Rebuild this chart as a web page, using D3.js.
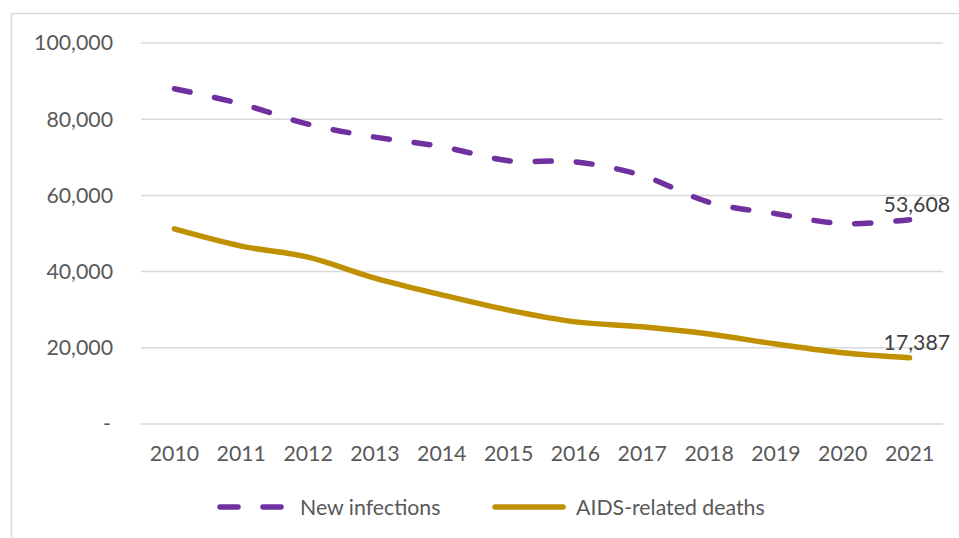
<!DOCTYPE html>
<html>
<head>
<meta charset="utf-8">
<script src="https://cdn.jsdelivr.net/npm/d3@7/dist/d3.min.js"></script>
<style>
  html, body { margin: 0; padding: 0; background: #fff; }
  svg { display: block; font-family: Lato, "Open Sans", sans-serif; }
</style>
</head>
<body>
<svg id="chart" width="959" height="538"></svg>
<script>
const years = ["2010","2011","2012","2013","2014","2015","2016","2017","2018","2019","2020","2021"];
const newInfections = [88000, 84000, 78700, 75300, 72800, 69100, 68800, 65200, 58200, 55200, 52600, 53608];
const aidsDeaths = [51200, 46700, 43800, 38300, 33900, 29900, 26800, 25500, 23600, 21000, 18700, 17387];
const yTicks = [0, 20000, 40000, 60000, 80000, 100000];
const seriesNames = ["New infections", "AIDS-related deaths"];
const seriesColors = ["#7030A0", "#BF9000"];

(function () {
  const svg = d3.select("#chart");
  const W = 959, H = 538;
  const plotLeft = 141, plotRight = 943, plotTop = 43, plotBottom = 424;
  const fontSize = 21.3;

  // chart frame (top and left edges fall inside the view)
  svg.append("rect").attr("x", 11.5).attr("y", 13.5)
    .attr("width", W + 20).attr("height", H + 20)
    .attr("fill", "none").attr("stroke", "#D9D9D9").attr("stroke-width", 1.5);

  const x = d3.scaleBand().domain(years).range([plotLeft, plotRight]);
  const y = d3.scaleLinear().domain([0, 100000]).range([plotBottom, plotTop]);
  const fmt = d3.format(",");

  // horizontal gridlines
  svg.append("g").selectAll("line").data(yTicks).join("line")
    .attr("x1", plotLeft).attr("x2", plotRight)
    .attr("y1", d => y(d)).attr("y2", d => y(d))
    .attr("stroke", "#D9D9D9").attr("stroke-width", 1.5);

  // y axis labels
  const yAxis = d3.axisLeft(y).tickValues(yTicks).tickSize(0).tickPadding(0)
    .tickFormat(d => d === 0 ? "-" : fmt(d));
  const gy = svg.append("g").attr("transform", "translate(113,0)").call(yAxis);
  gy.select(".domain").remove();
  gy.selectAll("text").attr("fill", "#595959").attr("font-size", fontSize)
    .attr("font-family", "Lato, sans-serif");
  gy.selectAll(".tick").filter(d => d === 0).select("text").attr("dx", -2);

  // x axis labels
  const xAxis = d3.axisBottom(x).tickSize(0).tickPadding(0);
  const gx = svg.append("g").attr("transform", `translate(0,${plotBottom + 22})`).call(xAxis);
  gx.select(".domain").remove();
  gx.selectAll("text").attr("fill", "#595959").attr("font-size", fontSize)
    .attr("font-family", "Lato, sans-serif");

  const cx = d => x(d) + x.bandwidth() / 2;
  const line = d3.line().x((d, i) => cx(years[i])).y(d => y(d))
    .curve(d3.curveCatmullRom.alpha(0));

  svg.append("path").datum(newInfections)
    .attr("d", line).attr("fill", "none")
    .attr("stroke", seriesColors[0]).attr("stroke-width", 5.5)
    .attr("stroke-linecap", "round").attr("stroke-dasharray", "16 25");

  svg.append("path").datum(aidsDeaths)
    .attr("d", line).attr("fill", "none")
    .attr("stroke", seriesColors[1]).attr("stroke-width", 5.5)
    .attr("stroke-linecap", "round");

  // end-point value labels
  const last = years.length - 1;
  [newInfections, aidsDeaths].forEach(s => {
    svg.append("text")
      .attr("x", cx(years[last]) - 26)
      .attr("y", y(s[last]) - 8)
      .attr("fill", "#404040").attr("font-size", fontSize)
      .text(fmt(s[last]));
  });

  // legend
  const legend = svg.append("g");
  legend.append("line").attr("x1", 220).attr("x2", 281).attr("y1", 507).attr("y2", 507)
    .attr("stroke", seriesColors[0]).attr("stroke-width", 5.5)
    .attr("stroke-linecap", "round").attr("stroke-dasharray", "18 25");
  legend.append("text").attr("x", 300).attr("y", 514.5).attr("fill", "#595959")
    .attr("font-size", fontSize).text(seriesNames[0]);
  legend.append("line").attr("x1", 495).attr("x2", 563).attr("y1", 507).attr("y2", 507)
    .attr("stroke", seriesColors[1]).attr("stroke-width", 5.5)
    .attr("stroke-linecap", "round");
  legend.append("text").attr("x", 576).attr("y", 514.5).attr("fill", "#595959")
    .attr("font-size", fontSize).text(seriesNames[1]);
})();
</script>
</body>
</html>
